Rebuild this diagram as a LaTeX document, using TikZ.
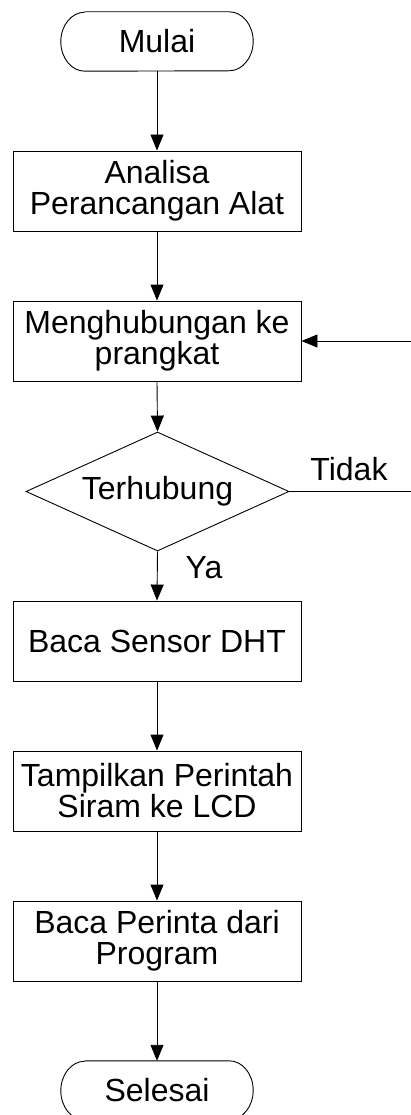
\documentclass[tikz,border=0pt]{standalone}
\usepackage{fontspec}
\setmainfont{Liberation Sans}
\usetikzlibrary{arrows.meta,shapes.geometric}
\begin{document}
\begin{tikzpicture}[x=1pt,y=1pt,
  every node/.style={font=\fontsize{32}{31}\selectfont},
  proc/.style={draw, line width=0.9pt, minimum width=288pt, minimum height=80pt,
    inner sep=0pt, align=center},
  term/.style={minimum width=192pt, minimum height=59pt, inner sep=0pt},
  decide/.style={draw, line width=0.9pt, diamond, aspect=2.2, inner sep=0pt,
    minimum width=263pt, minimum height=119pt},
  flow/.style={line width=0.9pt, -{Triangle[width=13pt,length=16pt]}},
  plain/.style={line width=0.9pt}]
\useasboundingbox (0,0) rectangle (411,-1115);
\clip (0,0) rectangle (411,-1115);

% terminators: text nodes with a stadium outline drawn around them
\node[term] (start) at (157,-41.5) {Mulai};
\node[term] (stop) at (157,-1090.5) {Selesai};
\foreach \t in {start,stop}{
  \draw[plain] ([xshift=24pt]\t.north west) -- ([xshift=-24pt]\t.north east)
    arc[start angle=90, end angle=-90, x radius=24pt, y radius=29.5pt]
    -- ([xshift=24pt]\t.south west)
    arc[start angle=270, end angle=90, x radius=24pt, y radius=29.5pt];
}

\node[proc] (analisa) at (157,-191) {Analisa\\Perancangan Alat};
\node[proc] (hubung) at (157,-341) {Menghubungan ke\\prangkat};
\node[decide] (cek) at (157.5,-491.5) {Terhubung};
\node[proc] (dht) at (157,-641) {Baca Sensor DHT};
\node[proc] (lcd) at (157,-791) {Tampilkan Perintah\\Siram ke LCD};
\node[proc] (prog) at (157,-941) {Baca Perinta dari\\Program};

\draw[flow] (start.south) -- (analisa.north);
\draw[flow] (analisa.south) -- (hubung.north);
\draw[flow] (hubung.south) -- (cek.north);
\draw[flow] (cek.south) -- (dht.north);
\draw[flow] (dht.south) -- (lcd.north);
\draw[flow] (lcd.south) -- (prog.north);
\draw[flow] (prog.south) -- (stop.north);

% "Tidak" branch loops back along the right edge
\coordinate (loop) at (430,-491.5);
\draw[flow] (cek.east) -- (loop) |- (hubung.east);

\node[anchor=base, inner sep=0pt] (tidak) at (349,-480) {Tidak};
\node[anchor=base, inner sep=0pt] (ya) at (204,-578) {Ya};
\end{tikzpicture}
\end{document}
